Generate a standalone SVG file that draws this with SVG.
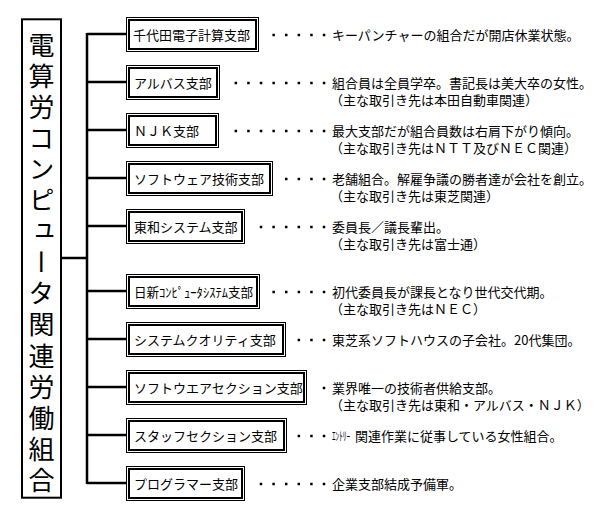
<svg xmlns="http://www.w3.org/2000/svg" width="616" height="516" viewBox="0 0 616 516">
<style>
text{font-family:"Noto Sans CJK JP","Noto Sans",sans-serif;fill:#000}
.lbl{font-size:13px}
.desc{font-size:13px}
.tt{font-size:26px;writing-mode:vertical-rl}
.outer{fill:#fff;stroke:#000;stroke-width:1}
.inner{fill:none;stroke:#000;stroke-width:2}
.conn{stroke:#000;stroke-width:2.5;fill:none}
.dots{stroke:#000;stroke-width:2.5;stroke-dasharray:2.5 10.1;fill:none}
</style>
<rect width="616" height="516" fill="#fff"/>
<g id="title">
<rect x="22" y="19.3" width="39" height="478.4" fill="#fff" stroke="#000" stroke-width="2"/>
<text class="tt" x="41.5" y="32">電</text>
<text class="tt" x="41.5" y="63.1">算</text>
<text class="tt" x="41.5" y="94.1">労</text>
<text class="tt" x="41.5" y="125.2">コ</text>
<text class="tt" x="41.5" y="156.3">ン</text>
<text class="tt" x="41.5" y="187.4">ピ</text>
<text class="tt" x="41.5" y="218.4">ュ</text>
<text class="tt" x="41.5" y="249.5">ー</text>
<text class="tt" x="41.5" y="280.6">タ</text>
<text class="tt" x="41.5" y="311.6">関</text>
<text class="tt" x="41.5" y="342.7">連</text>
<text class="tt" x="41.5" y="373.8">労</text>
<text class="tt" x="41.5" y="404.8">働</text>
<text class="tt" x="41.5" y="435.9">組</text>
<text class="tt" x="41.5" y="467">合</text>
</g>
<g id="connectors">
<line class="conn" x1="61" y1="258" x2="87" y2="258"/>
<line class="conn" x1="87" y1="33" x2="87" y2="484"/>
<line class="conn" x1="87" y1="34" x2="127" y2="34"/>
<line class="conn" x1="87" y1="82" x2="127" y2="82"/>
<line class="conn" x1="87" y1="130" x2="127" y2="130"/>
<line class="conn" x1="87" y1="178" x2="127" y2="178"/>
<line class="conn" x1="87" y1="226" x2="127" y2="226"/>
<line class="conn" x1="87" y1="291" x2="127" y2="291"/>
<line class="conn" x1="87" y1="339" x2="127" y2="339"/>
<line class="conn" x1="87" y1="387" x2="127" y2="387"/>
<line class="conn" x1="87" y1="435" x2="127" y2="435"/>
<line class="conn" x1="87" y1="483" x2="127" y2="483"/>
<line class="dots" x1="272.4" y1="35" x2="326" y2="35"/>
<line class="dots" x1="234.6" y1="83" x2="326" y2="83"/>
<line class="dots" x1="234.6" y1="131" x2="326" y2="131"/>
<line class="dots" x1="285" y1="179" x2="326" y2="179"/>
<line class="dots" x1="259.75" y1="227" x2="326" y2="227"/>
<line class="dots" x1="272.4" y1="292" x2="326" y2="292"/>
<line class="dots" x1="297.6" y1="340" x2="326" y2="340"/>
<line class="dots" x1="322.75" y1="388" x2="326" y2="388"/>
<line class="dots" x1="297.6" y1="436" x2="326" y2="436"/>
<line class="dots" x1="259.75" y1="484" x2="326" y2="484"/>
</g>
<g id="n1">
<rect class="outer" x="126.5" y="17.5" width="132" height="34"/><rect class="inner" x="129" y="20" width="127" height="29"/>
<text class="lbl" x="133" y="40">千代田電子計算支部</text>
<text class="desc" x="332" y="40">キーパンチャーの組合だが開店休業状態。</text>
</g>
<g id="n2">
<rect class="outer" x="126.5" y="65.5" width="93" height="34"/><rect class="inner" x="129" y="68" width="88" height="29"/>
<text class="lbl" x="134" y="88">アルバス支部</text>
<text class="desc"><tspan x="332" y="88">組合員は全員学卒。書記長は美大卒の女性。</tspan><tspan x="330" y="105">（主な取引き先は本田自動車関連）</tspan></text>
</g>
<g id="n3">
<rect class="outer" x="126.5" y="113.5" width="92" height="34"/><rect class="inner" x="129" y="116" width="87" height="29"/>
<text class="lbl" x="134" y="136">ＮＪＫ支部</text>
<text class="desc"><tspan x="332" y="136">最大支部だが組合員数は右肩下がり傾向。</tspan><tspan x="330" y="153">（主な取引き先はＮＴＴ及びＮＥＣ関連）</tspan></text>
</g>
<g id="n4">
<rect class="outer" x="126.5" y="161.5" width="146" height="34"/><rect class="inner" x="129" y="164" width="141" height="29"/>
<text class="lbl" x="134" y="184">ソフトウェア技術支部</text>
<text class="desc"><tspan x="332" y="184">老舗組合。解雇争議の勝者達が会社を創立。</tspan><tspan x="330" y="201">（主な取引き先は東芝関連）</tspan></text>
</g>
<g id="n5">
<rect class="outer" x="126.5" y="209.5" width="118" height="34"/><rect class="inner" x="129" y="212" width="113" height="29"/>
<text class="lbl" x="134" y="232">東和システム支部</text>
<text class="desc"><tspan x="332" y="232">委員長／議長輩出。</tspan><tspan x="330" y="249">（主な取引き先は富士通）</tspan></text>
</g>
<g id="n6">
<rect class="outer" x="126.5" y="274.5" width="133" height="34"/><rect class="inner" x="129" y="277" width="128" height="29"/>
<text class="lbl" x="134" y="297" textLength="119" lengthAdjust="spacingAndGlyphs">日新ｺﾝﾋﾟｭｰﾀｼｽﾃﾑ支部</text>
<text class="desc"><tspan x="332" y="297">初代委員長が課長となり世代交代期。</tspan><tspan x="330" y="314">（主な取引き先はＮＥＣ）</tspan></text>
</g>
<g id="n7">
<rect class="outer" x="126.5" y="322.5" width="159" height="34"/><rect class="inner" x="129" y="325" width="154" height="29"/>
<text class="lbl" x="134" y="345">システムクオリティ支部</text>
<text class="desc" x="332" y="345">東芝系ソフトハウスの子会社。20代集団。</text>
</g>
<g id="n8">
<rect class="outer" x="126.5" y="370.5" width="180" height="34"/><rect class="inner" x="129" y="373" width="175" height="29"/>
<text class="lbl" x="134" y="393">ソフトウエアセクション支部</text>
<text class="desc"><tspan x="332" y="393">業界唯一の技術者供給支部。</tspan><tspan x="330" y="410">（主な取引き先は東和・アルバス・ＮＪＫ）</tspan></text>
</g>
<g id="n9">
<rect class="outer" x="126.5" y="418.5" width="160" height="34"/><rect class="inner" x="129" y="421" width="155" height="29"/>
<text class="lbl" x="134" y="441">スタッフセクション支部</text>
<text class="desc" x="332" y="441"><tspan font-size="12" textLength="18" lengthAdjust="spacingAndGlyphs">ｴﾝﾄﾘｰ</tspan> <tspan dx="2">関連作業に従事している女性組合。</tspan></text>
</g>
<g id="n10">
<rect class="outer" x="126.5" y="466.5" width="118" height="34"/><rect class="inner" x="129" y="469" width="113" height="29"/>
<text class="lbl" x="134" y="489">プログラマー支部</text>
<text class="desc" x="332" y="489">企業支部結成予備軍。</text>
</g>
</svg>
